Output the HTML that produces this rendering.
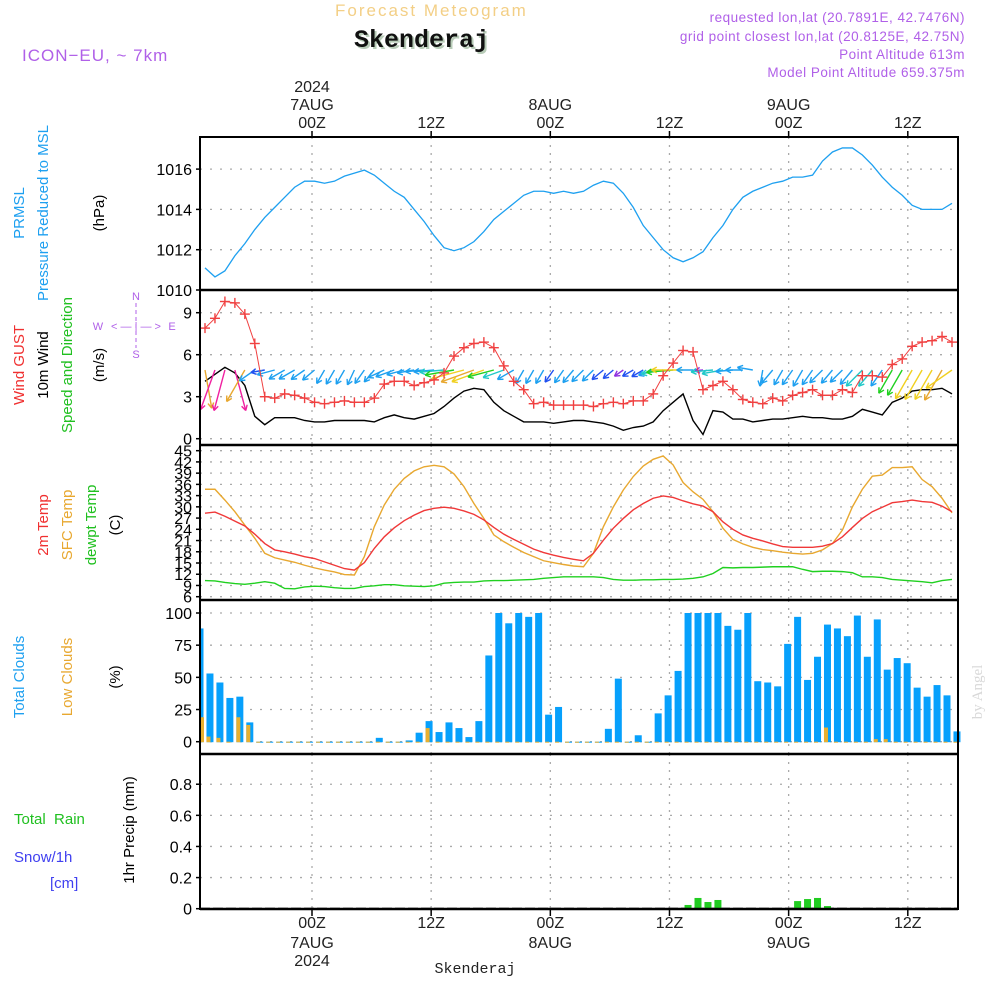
<!DOCTYPE html>
<html><head><meta charset="utf-8"><style>
html,body{margin:0;padding:0;background:#fff;}
svg{display:block;font-family:"Liberation Sans",sans-serif;}
</style></head><body>
<svg id="chart" width="1000" height="1000" viewBox="0 0 1000 1000" xmlns="http://www.w3.org/2000/svg">
<rect width="1000" height="1000" fill="#fff"/>
<g id="header">
<text x="335" y="16" font-size="17" fill="#f3cf86" letter-spacing="2">Forecast Meteogram</text>
<text x="356" y="49" font-size="25" font-weight="bold" font-family="Liberation Mono, monospace" fill="#b8ccb8">Skenderaj</text>
<text x="354" y="47" font-size="25" font-weight="bold" font-family="Liberation Mono, monospace" fill="#111">Skenderaj</text>
<text x="22" y="61" font-size="17" fill="#b060e8" letter-spacing="1">ICON−EU, ~ 7km</text>
<g font-size="13.5" fill="#b060e8" text-anchor="end" letter-spacing="0.5">
<text x="965" y="22">requested lon,lat (20.7891E, 42.7476N)</text>
<text x="965" y="41">grid point closest lon,lat (20.8125E, 42.75N)</text>
<text x="965" y="59">Point Altitude 613m</text>
<text x="965" y="77">Model Point Altitude 659.375m</text>
</g>
</g>
<g id="grid"></g>
<g id="marks"></g>
<g id="frame"></g>
<g id="labels" font-size="15">
<text transform="translate(24,213) rotate(-90)" text-anchor="middle" fill="#1ea0f0">PRMSL</text>
<text transform="translate(48,213) rotate(-90)" text-anchor="middle" fill="#1ea0f0">Pressure Reduced to MSL</text>
<text transform="translate(104,213) rotate(-90)" text-anchor="middle" fill="#000">(hPa)</text>
<text transform="translate(24,365) rotate(-90)" text-anchor="middle" fill="#f03030">Wind GUST</text>
<text transform="translate(48,365) rotate(-90)" text-anchor="middle" fill="#000">10m Wind</text>
<text transform="translate(72,365) rotate(-90)" text-anchor="middle" fill="#20c020">Speed and Direction</text>
<text transform="translate(104,365) rotate(-90)" text-anchor="middle" fill="#000">(m/s)</text>
<g fill="#b060e8" font-size="11" text-anchor="middle">
<text x="136" y="300">N</text><text x="136" y="358">S</text><text x="98" y="330">W</text><text x="172" y="330">E</text>
<text x="136" y="330">&lt; — | — &gt;</text>
<line x1="136" y1="303" x2="136" y2="348" stroke="#b060e8" stroke-width="1" stroke-dasharray="4,3"/>
</g>
<text transform="translate(48,525) rotate(-90)" text-anchor="middle" fill="#f03030">2m Temp</text>
<text transform="translate(72,525) rotate(-90)" text-anchor="middle" fill="#e8a830">SFC Temp</text>
<text transform="translate(96,525) rotate(-90)" text-anchor="middle" fill="#20c020">dewpt Temp</text>
<text transform="translate(120,525) rotate(-90)" text-anchor="middle" fill="#000">(C)</text>
<text transform="translate(24,677) rotate(-90)" text-anchor="middle" fill="#1ea0f0">Total Clouds</text>
<text transform="translate(72,677) rotate(-90)" text-anchor="middle" fill="#e8a830">Low Clouds</text>
<text transform="translate(120,677) rotate(-90)" text-anchor="middle" fill="#000">(%)</text>
<text x="14" y="824" fill="#20c020" xml:space="preserve">Total  Rain</text>
<text x="14" y="862" fill="#4040f0">Snow/1h</text>
<text x="50" y="888" fill="#4040f0">[cm]</text>
<text transform="translate(134,830) rotate(-90)" text-anchor="middle" fill="#000">1hr Precip (mm)</text>
<text transform="translate(982,692) rotate(-90)" text-anchor="middle" fill="#d8d8d8" font-family="Liberation Serif, serif" font-size="15">by Angel</text>
<text x="475" y="973" text-anchor="middle" font-family="Liberation Mono, monospace" font-size="15" fill="#222">Skenderaj</text>
</g>
</svg>
<script>
// ---- data (hourly, index 0 = first sample) ----
const pressure=[1011.1,1010.65,1010.95,1011.7,1012.3,1013.0,1013.6,1014.1,1014.6,1015.1,1015.4,1015.4,1015.3,1015.4,1015.65,1015.8,1015.95,1015.7,1015.3,1014.9,1014.6,1014.0,1013.4,1012.7,1012.1,1011.95,1012.1,1012.4,1012.9,1013.5,1013.9,1014.3,1014.7,1014.9,1014.9,1014.8,1014.9,1014.8,1014.9,1015.2,1015.4,1015.3,1014.8,1014.1,1013.2,1012.6,1012.0,1011.6,1011.4,1011.6,1011.9,1012.6,1013.2,1014.0,1014.6,1014.9,1015.1,1015.3,1015.4,1015.6,1015.6,1015.7,1016.4,1016.85,1017.05,1017.05,1016.7,1016.2,1015.6,1015.1,1014.7,1014.2,1014.0,1014.0,1014.0,1014.3];
const gust=[7.9,8.6,9.8,9.7,8.9,6.8,3.0,2.9,3.2,3.1,2.9,2.6,2.5,2.6,2.7,2.6,2.6,2.9,3.9,4.1,4.1,3.8,4.0,4.2,4.7,5.9,6.5,6.8,6.9,6.5,5.2,4.1,3.5,2.5,2.6,2.4,2.4,2.4,
2.4,2.3,2.5,2.6,2.5,2.7,2.7,3.2,4.5,5.4,6.3,6.2,3.5,3.8,4.1,3.5,2.8,2.6,2.5,2.9,2.7,3.1,3.3,3.5,3.1,3.1,3.5,3.3,4.5,4.5,4.4,5.3,5.7,6.6,6.9,7.0,7.3,6.9];
const wind=[4.1,4.6,5.1,4.7,3.8,1.6,1.0,1.5,1.5,1.5,1.3,1.2,1.2,1.3,1.3,1.3,1.3,1.2,1.5,1.7,1.5,1.4,1.6,1.8,2.3,2.9,3.4,3.6,3.5,2.6,2.0,1.6,1.2,1.2,1.2,1.1,1.2,1.3,1.3,
1.2,1.1,0.9,0.6,0.8,0.9,1.2,2.0,2.6,3.2,1.3,0.3,2.0,1.9,1.4,1.4,1.2,1.3,1.4,1.4,1.5,1.6,1.5,1.5,1.4,1.4,1.6,2.1,1.9,1.7,2.6,2.9,3.4,3.5,3.5,3.6,3.2];
const windDir=[350,20,15,345,30,55,80,75,60,60,55,50,30,30,30,25,35,40,65,70,75,80,85,85,85,80,75,70,70,75,70,60,30,30,30,35,35,40,45,45,50,50,55,60,60,70,80,85,90,90,85,85,80,85,90,100,10,40,30,35,30,35,45,40,45,40,45,40,35,30,30,30,30,30,30,55];
const temp2m=[28.3,28.6,27.5,26.2,24.9,22.7,20.2,18.5,18.0,17.4,16.7,16.2,15.3,14.4,13.5,13.1,15.1,18.9,22.0,24.4,26.3,27.8,29.0,29.6,29.9,29.6,28.9,28.0,26.5,24.5,22.7,21.3,20.0,18.7,17.8,17.1,16.5,16.0,15.6,
17.6,21.1,24.3,26.9,29.2,30.9,32.3,32.9,32.5,31.6,30.8,30.2,28.7,26.0,24.0,22.5,21.6,20.9,20.1,19.4,19.2,19.2,19.2,19.5,20.2,22.0,24.5,26.9,28.7,29.9,31.1,31.4,31.8,31.4,31.2,30.2,28.7];
const tempSfc=[34.7,34.7,31.8,28.7,25.1,21.6,17.6,16.4,15.8,15.2,14.4,13.7,13.1,12.6,11.9,11.8,16.7,24.7,30.5,34.7,37.6,39.6,40.7,41.1,40.7,38.8,35.4,30.9,26.9,22.5,20.7,19.2,17.8,16.7,15.6,15.1,14.6,14.2,14.0,
17.6,24.7,30.0,34.5,38.1,40.9,42.7,43.6,41.2,36.5,34.0,32.0,28.7,24.3,21.3,20.1,19.2,18.6,18.3,17.9,17.6,17.4,17.6,18.5,20.2,23.8,30.0,34.7,38.2,38.5,40.5,40.5,40.7,37.3,35.4,32.3,28.4];
const dewpt=[10.3,10.2,9.8,9.5,9.3,9.6,10.0,9.6,8.2,8.1,8.6,8.8,8.7,8.4,8.2,8.2,8.7,8.9,9.2,9.2,8.9,8.8,8.7,8.9,9.6,9.8,9.9,9.9,10.2,10.3,10.3,10.4,10.5,10.6,10.9,11.1,11.3,11.3,11.3,
11.3,11.1,10.6,10.4,10.4,10.5,10.5,10.6,10.6,10.7,10.9,11.3,12.2,13.8,13.7,13.8,13.8,13.9,14.0,14.0,14.0,13.3,12.7,12.8,12.8,12.7,12.4,11.3,11.3,11.1,10.6,10.4,10.2,10.0,9.7,10.3,10.6];
const totalClouds=[88,53,46,34,35,15,0,0,0,0,0,0,0,0,0,0,0,0,3,0,0,1,7,16,7.5,15,10.6,3.6,16,67,100,92,100,97,100,21,27,0,0,0,0,10,49,0,5,0,22,36,55,100,100,100,100,90,87,100,47,46,43,76,97,48,66,91,88,82,98,66,95,56,65,61,42,35,44,36,8];
const lowClouds=[19,4,3,0,19,13,0,0,0,0,0,0,0,0,0,0,0,0,0,0,0,0,0,10.6,0,0,0,0,0,0,0,0,0,0,0,0,0,0,0,0,0,0,0,0,0,0,0,0,0,0,0,0,0,0,0,0,0,0,0,0,0,0,0,11,0,0,0,0,2,2,0,0,0,0,0,0,0];
const precip=[0,0,0,0,0,0,0,0,0,0,0,0,0,0,0,0,0,0,0,0,0,0,0,0,0,0,0,0,0,0,0,0,0,0,0,0,0,0,0,0,0,0,0,0,0,0,0,0,0,0.024,0.069,0.043,0.056,0,0,0,0,0,0,0,0.049,0.062,0.069,0.017,0,0,0,0,0,0,0,0,0,0,0,0,0];
const pressTicks=[1010,1012,1014,1016];
const windTicks=[0,3,6,9];
const tempTicks=[6,9,12,15,18,21,24,27,30,33,36,39,42,45];
const cloudTicks=[0,25,50,75,100];
const precipTicks=[0,0.2,0.4,0.6,0.8];
const timeTicks=[0,12,24,36,48,60]; // hours from 7AUG 00Z
const timeLabels=["00Z","12Z","00Z","12Z","00Z","12Z"];
const dayLabels=["7AUG","","8AUG","","9AUG",""];

// ---- scales ----
const L=200,R=958;
const HX=9.93;
const xHour=h=>312+h*HX;
const xi=i=>205+i*9.96;
const xb=i=>200+i*9.96;
const yP=v=>290-(v-1010)*20.15;
const yW=v=>438.7-v*14;
const yT=v=>596.7-(v-6)*3.744;
const yC=v=>741.7-v*1.287;
const yR=v=>908.7-v*155.6;
const panels=[[137,290],[290,445],[445,600],[600,754],[754,909]];

const NS="http://www.w3.org/2000/svg";
function mk(tag,attrs,parent){const e=document.createElementNS(NS,tag);for(const k in attrs)e.setAttribute(k,attrs[k]);parent.appendChild(e);return e;}
const grid=document.getElementById('grid'),marks=document.getElementById('marks'),frame=document.getElementById('frame');

const gridSets=[[pressTicks,yP,0,'pressure'],[windTicks,yW,1,'wind'],[tempTicks,yT,2,'temp'],[cloudTicks,yC,3,'cloud'],[precipTicks,yR,4,'precip']];
gridSets.forEach(([ticks,ys,p,nm])=>{
  ticks.forEach(t=>{
    const y=ys(t);
    const gl=mk('line',{x1:L,x2:R,y1:y,y2:y,stroke:'#aaa','stroke-width':1.3,'stroke-dasharray':'2,8'},grid);
    
    
    mk('line',{x1:L-4,x2:L,y1:y,y2:y,stroke:'#000','stroke-width':1.5},frame);
    const tx=mk('text',{x:L-8,y:y+6,'text-anchor':'end','font-size':16,fill:'#000'},frame);
    tx.textContent=String(t);
    
    
  });
  timeTicks.forEach(h=>{
    const x=xHour(h);
    mk('line',{x1:x,x2:x,y1:panels[p][0],y2:panels[p][1],stroke:'#aaa','stroke-width':1.3,'stroke-dasharray':'2,6'},grid);
  });
});

function poly(arr,ys,color,w,name){
  const pl=mk('polyline',{points:arr.map((v,i)=>xi(i)+','+ys(v)).join(' '),fill:'none',stroke:color,'stroke-width':w},marks);
  
  
  return pl;
}
poly(pressure,yP,'#1ea0f0',1.3,'pressure-line');

totalClouds.forEach((v,i)=>{
  const x=xb(i);
  const y=yC(v);
  const r=mk('rect',{x:Math.max(L,x-3.5),y:y,width:x-3.5<L?x+3.5-L:7,height:Math.max(1,yC(0)-y+0.5),fill:'#06a0fc'},marks);
  
  
});
lowClouds.forEach((v,i)=>{
  const x=xb(i);
  const y=yC(v);
  const r=mk('rect',{x:Math.max(L,x-3.5),y:y,width:4,height:Math.max(1,yC(0)-y+0.5),fill:'#e8b030'},marks);
  
  
});

mk('line',{x1:L,x2:R,y1:yR(0),y2:yR(0),stroke:'#000','stroke-width':2,'stroke-dasharray':'10,3'},marks);
precip.forEach((v,i)=>{
  if(v<=0)return;
  const x=xb(i);const y=yR(v);
  const r=mk('rect',{x:x-3.5,y:y,width:7,height:yR(0)-y,fill:'#20cc20'},marks);
  
  
});

poly(dewpt,yT,'#20d020',1.4,'dewpoint-line');
poly(tempSfc,yT,'#e8a830',1.4,'sfc-temp-line');
poly(temp2m,yT,'#f03838',1.4,'temp-2m-line');

poly(wind,yW,'#000',1.4,'wind-speed-line');
function wcol(v){if(v>=4.5)return'#f020a0';if(v>=3.6)return'#e8a830';if(v>=3.0)return'#f0d020';if(v>=2.5)return'#20d020';if(v>=1.9)return'#20c8c8';if(v>=1.2)return'#1ea0f0';if(v>=0.8)return'#2050f0';return'#9030e0';}
windDir.forEach((d,i)=>{
  const v=wind[i];
  const len=Math.min(42,6+v*8);
  const a=(d+180)*Math.PI/180;
  const dx=Math.sin(a),dy=-Math.cos(a);
  const x0=xi(i),y0=370;
  const x1=x0+dx*len,y1=y0+dy*len;
  const c=wcol(v);
  const g=mk('g',{stroke:c,'stroke-width':1.4,fill:'none'},marks);
  
  
  mk('line',{x1:x0,y1:y0,x2:x1,y2:y1},g);
  const hl=6;
  [0.5,-0.5].forEach(o=>{
    const bx=-dx*Math.cos(o)+dy*Math.sin(o);
    const by=-dy*Math.cos(o)-dx*Math.sin(o);
    mk('line',{x1:x1,y1:y1,x2:x1+bx*hl,y2:y1+by*hl},g);
  });
});
gust.forEach((v,i)=>{
  const x=xi(i),y=yW(v);
  const g=mk('g',{stroke:'#f04040','stroke-width':1.4},marks);
  
  
  mk('line',{x1:x-5,x2:x+5,y1:y,y2:y},g);
  mk('line',{x1:x,x2:x,y1:y-5,y2:y+5},g);
});
poly(gust,yW,'#f04040',1,'gust-line');

mk('rect',{x:L,y:137,width:R-L,height:909-137,fill:'none',stroke:'#000','stroke-width':2},frame);
[290,445,600,754].forEach(y=>mk('line',{x1:L,x2:R,y1:y,y2:y,stroke:'#000','stroke-width':2.5},frame));
mk('line',{x1:L,x2:R,y1:909,y2:909,stroke:'#000','stroke-width':2.5},frame);
timeTicks.forEach((h,k)=>{
  const x=xHour(h);
  mk('line',{x1:x,x2:x,y1:131,y2:137,stroke:'#000','stroke-width':1.5},frame);
  mk('line',{x1:x,x2:x,y1:909,y2:916,stroke:'#000','stroke-width':1.5},frame);
  const t1=mk('text',{x:x,y:128,'text-anchor':'middle','font-size':16,fill:'#222'},frame);
  t1.textContent=timeLabels[k];
  
  
  const t2=mk('text',{x:x,y:928,'text-anchor':'middle','font-size':16,fill:'#222'},frame);
  t2.textContent=timeLabels[k];
  
  
  if(dayLabels[k]){
    const d1=mk('text',{x:x,y:110,'text-anchor':'middle','font-size':16,fill:'#222'},frame);
    d1.textContent=dayLabels[k];
    
    
    const d2=mk('text',{x:x,y:948,'text-anchor':'middle','font-size':16,fill:'#222'},frame);
    d2.textContent=dayLabels[k];
    
    
  }
  if(k===0){
    const y1=mk('text',{x:x,y:92,'text-anchor':'middle','font-size':16,fill:'#222'},frame);
    y1.textContent='2024';
    
    
    const y2=mk('text',{x:x,y:966,'text-anchor':'middle','font-size':16,fill:'#222'},frame);
    y2.textContent='2024';
    
    
  }
});
</script>
</body></html>
